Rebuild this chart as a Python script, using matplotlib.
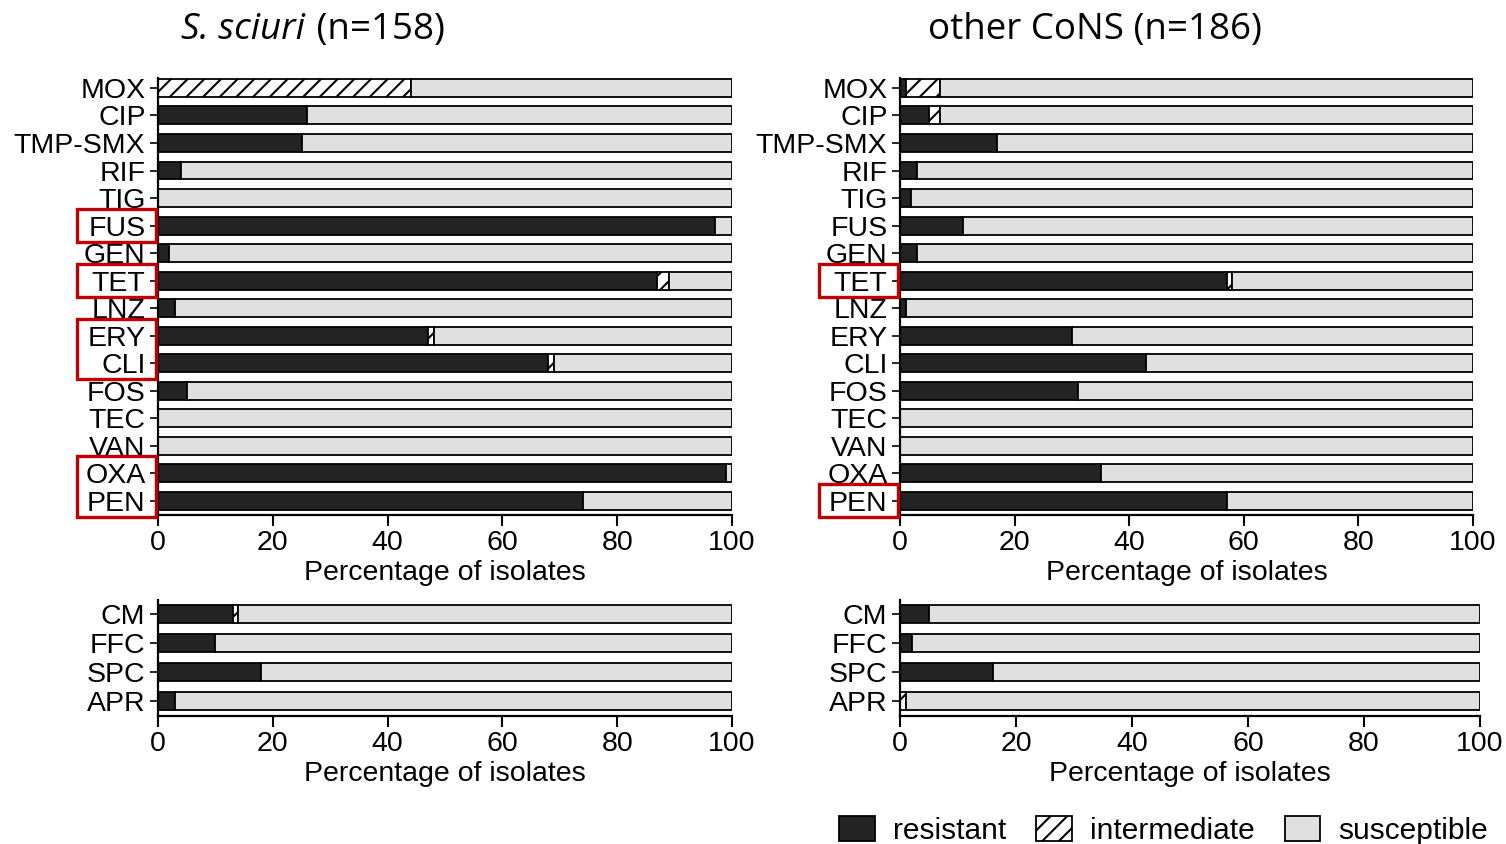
import matplotlib.pyplot as plt
import matplotlib.transforms as mtransforms
from matplotlib.patches import Patch, Rectangle
import numpy as np

plt.rcParams['font.family'] = ['Liberation Sans', 'DejaVu Sans']
plt.rcParams['hatch.linewidth'] = 1.5

# antimicrobial agents, top to bottom
main_drugs = ["MOX", "CIP", "TMP-SMX", "RIF", "TIG", "FUS", "GEN", "TET",
              "LNZ", "ERY", "CLI", "FOS", "TEC", "VAN", "OXA", "PEN"]
vet_drugs = ["CM", "FFC", "SPC", "APR"]

# percentages
sciuri_res = [0, 26, 25, 4, 0, 97, 2, 87, 3, 47, 68, 5, 0, 0, 99, 74]
sciuri_int = [44, 0, 0, 0, 0, 0, 0, 2, 0, 1, 1, 0, 0, 0, 0, 0]
cons_res = [1, 5, 17, 3, 2, 11, 3, 57, 1, 30, 43, 31, 0, 0, 35, 57]
cons_int = [6, 2, 0, 0, 0, 0, 0, 1, 0, 0, 0, 0, 0, 0, 0, 0]
sciuri_vet_res = [13, 10, 18, 3]
sciuri_vet_int = [1, 0, 0, 0]
cons_vet_res = [5, 2, 16, 0]
cons_vet_int = [0, 0, 0, 1]

# labels highlighted with red boxes (first, last)
sciuri_boxes = [("FUS", "FUS"), ("TET", "TET"), ("ERY", "CLI"), ("OXA", "PEN")]
cons_boxes = [("TET", "TET"), ("PEN", "PEN")]

titles = [("S. sciuri", " (n=158)"), ("other CoNS", " (n=186)")]

RES_COLOR = "#232323"
SUS_COLOR = "#e0e0e0"
TICK_FS = 20.5
TITLE_FS = 26.5
TITLE_FONT = ["Open Sans", "DejaVu Sans"]

W, H = 1506, 844
fig = plt.figure(figsize=(W / 100, H / 100), dpi=100)


def px_axes(x0, x1, ytop, ybot):
    return fig.add_axes([x0 / W, 1 - ybot / H, (x1 - x0) / W, (ybot - ytop) / H])


def draw_panel(ax, labels, res, inter, ylim, bar_h):
    res = np.array(res, dtype=float)
    inter = np.array(inter, dtype=float)
    sus = 100 - res - inter
    y = np.arange(len(labels))
    kw = dict(height=bar_h, edgecolor="black", linewidth=1.3)
    ax.barh(y, res, color=RES_COLOR, **kw)
    ax.barh(y, inter, left=res, color="white", hatch="//", **kw)
    ax.barh(y, sus, left=res + inter, color=SUS_COLOR, **kw)
    ax.set_xlim(0, 100)
    ax.set_ylim(*ylim)
    ax.set_yticks(y)
    ax.set_yticklabels(labels, fontsize=TICK_FS)
    ax.set_xticks(np.arange(0, 101, 20))
    ax.tick_params(axis="x", labelsize=TICK_FS, length=8, width=1.5, pad=3)
    ax.tick_params(axis="y", length=6, width=1.2, pad=3)
    for s in ["top", "right"]:
        ax.spines[s].set_visible(False)
    for s in ["left", "bottom"]:
        ax.spines[s].set_linewidth(1.6)
    ax.set_xlabel("Percentage of isolates", fontsize=TICK_FS, labelpad=3)


def draw_boxes(ax, labels, boxes, x0, x1):
    trans = mtransforms.blended_transform_factory(fig.transFigure, ax.transData)
    for first, last in boxes:
        i0, i1 = labels.index(first), labels.index(last)
        rect = Rectangle((x0 / W, i0 - 0.62), (x1 - x0) / W, i1 - i0 + 1.2,
                         transform=trans, fill=False, edgecolor="#c00000",
                         linewidth=2.4, clip_on=False)
        fig.add_artist(rect)


main_ylim = (15.51, -0.36)
vet_ylim = (3.52, -0.48)

ax1 = px_axes(158, 732, 78, 515)
draw_panel(ax1, main_drugs, sciuri_res, sciuri_int, main_ylim, 0.65)
draw_boxes(ax1, main_drugs, sciuri_boxes, 77, 156)

ax2 = px_axes(900, 1473, 78, 515)
draw_panel(ax2, main_drugs, cons_res, cons_int, main_ylim, 0.65)
draw_boxes(ax2, main_drugs, cons_boxes, 819, 898)

ax3 = px_axes(158, 732, 600, 716)
draw_panel(ax3, vet_drugs, sciuri_vet_res, sciuri_vet_int, vet_ylim, 0.62)

ax4 = px_axes(900, 1480, 600, 716)
draw_panel(ax4, vet_drugs, cons_vet_res, cons_vet_int, vet_ylim, 0.62)

# titles: italic species name + plain count
for (name, count), xc, italic in [(titles[0], 312, True), (titles[1], 1095, False)]:
    t = fig.text(0, 0, name + ("" if italic else count), fontsize=TITLE_FS,
                 family=TITLE_FONT, style="italic" if italic else "normal")
    fig.canvas.draw()
    if italic:
        t2 = fig.text(0, 0, count, fontsize=TITLE_FS, family=TITLE_FONT)
        fig.canvas.draw()
        w1 = t.get_window_extent().width
        w2 = t2.get_window_extent().width
        left = xc - (w1 + w2) / 2
        t.set_position((left / W, 1 - 39 / H))
        t2.set_position(((left + w1 + 2) / W, 1 - 39 / H))
    else:
        w1 = t.get_window_extent().width
        t.set_position(((xc - w1 / 2) / W, 1 - 39 / H))

handles = [
    Patch(facecolor=RES_COLOR, edgecolor="black", linewidth=1.3, label="resistant"),
    Patch(facecolor="white", edgecolor="black", linewidth=1.3, hatch="//", label="intermediate"),
    Patch(facecolor=SUS_COLOR, edgecolor="black", linewidth=1.3, label="susceptible"),
]
fig.legend(handles=handles, loc="lower right", bbox_to_anchor=(1.0, -0.022),
           ncol=3, frameon=False, fontsize=21.5, handlelength=1.2, handleheight=0.9,
           columnspacing=1.0, handletextpad=0.6, borderaxespad=0.2)

fig.savefig("out.png", dpi=100)
